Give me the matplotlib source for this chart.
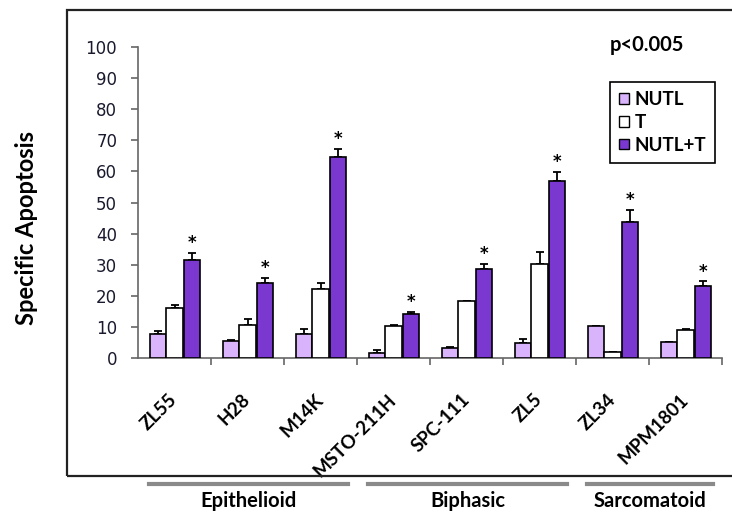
import matplotlib.pyplot as plt
import matplotlib.transforms as mtransforms
from matplotlib.patches import Rectangle, Patch
from matplotlib.lines import Line2D
import numpy as np

# cell lines and treatment groups
cell_lines = ["ZL55", "H28", "M14K", "MSTO-211H", "SPC-111", "ZL5", "ZL34", "MPM1801"]
nutl = [7.8, 5.5, 7.8, 1.6, 3.2, 4.8, 10.2, 5.0]
nutl_err = [0.8, 0.3, 1.5, 0.9, 0.2, 1.3, 0.2, 0.3]
t_only = [16.0, 10.7, 22.3, 10.2, 18.2, 30.3, 1.8, 8.9]
t_err = [1.0, 1.8, 1.8, 0.5, 0.2, 3.7, 0.2, 0.4]
nutl_t = [31.6, 24.1, 64.5, 14.2, 28.6, 57.0, 43.6, 23.3]
nutl_t_err = [2.2, 1.6, 2.8, 0.7, 1.7, 2.8, 4.1, 1.3]

# histology groups: (name, first index, last index)
histology = [("Epithelioid", 0, 2), ("Biphasic", 3, 5), ("Sarcomatoid", 6, 7)]

light = "#d9b3fb"
dark = "#7b38d0"
font = "Lato"

fig = plt.figure(figsize=(7.32, 5.12), dpi=100)
ax = fig.add_axes([138 / 732, 1 - 358 / 512, 584 / 732, 311 / 512])

x = np.arange(len(cell_lines)) + 0.5
w = 0.22
ekw = dict(lw=1.3, capthick=1.3, ecolor="black")
for off, vals, errs, col in [(-0.22, nutl, nutl_err, light),
                             (0.0, t_only, t_err, "white"),
                             (0.235, nutl_t, nutl_t_err, dark)]:
    ax.bar(x + off, vals, w, color=col, edgecolor="black", linewidth=1.2, zorder=3)
    ax.errorbar(x + off, vals, yerr=[np.zeros(len(errs)), errs], fmt="none",
                capsize=3, zorder=2, **ekw)

# significance stars over the combination bars
for xi, v, e in zip(x + 0.235, nutl_t, nutl_t_err):
    ax.text(xi, v + e + 3.2, "*", ha="center", va="center", fontsize=12,
            fontweight="bold", family="DejaVu Sans")

ax.set_xlim(0, len(cell_lines))
ax.set_ylim(0, 100)
ax.set_yticks(range(0, 101, 10))
ax.tick_params(axis="y", direction="out", length=5, width=1.2, color="#666666",
               labelsize=12, pad=10, labelcolor="#1a1a2e")
ax.set_xticks(x)
ax.set_xticklabels(cell_lines, rotation=45, ha="right", va="center",
                   rotation_mode="anchor", fontsize=13.5,
                   fontweight="bold", family=font)
ax.tick_params(axis="x", length=0, pad=28)
ax.set_xticks(np.arange(1, len(cell_lines) + 1), minor=True)
ax.tick_params(axis="x", which="minor", direction="out", length=5, width=1.2,
               color="#666666")
for s in ["top", "right"]:
    ax.spines[s].set_visible(False)
for s in ["left", "bottom"]:
    ax.spines[s].set_color("#666666")
    ax.spines[s].set_linewidth(1.2)

fig.text(27 / 732, 1 - 228 / 512, "Specific Apoptosis", rotation=90, ha="center",
         va="center", fontsize=17, fontweight="bold", family=font)
fig.text(610 / 732, 1 - 45 / 512, "p<0.005", ha="left", va="center", fontsize=14.5,
         fontweight="bold", family=font)

# outer frame
fig.add_artist(Rectangle((67 / 732, 1 - 476 / 512), 0.99, 466 / 512, fill=False,
                         edgecolor="#222222", linewidth=1.6,
                         transform=fig.transFigure))

handles = [Patch(facecolor=light, edgecolor="black", label="NUTL"),
           Patch(facecolor="white", edgecolor="black", label="T"),
           Patch(facecolor=dark, edgecolor="black", label="NUTL+T")]
leg = fig.legend(handles=handles, loc="upper left",
                 bbox_to_anchor=(610 / 732, 1 - 82 / 512), fancybox=False,
                 edgecolor="black", framealpha=1, handlelength=0.5,
                 handleheight=0.5, handletextpad=0.3, borderpad=0.5,
                 labelspacing=0.3, borderaxespad=0,
                 prop=dict(family=font, weight="bold", size=13.5))
leg.get_frame().set_linewidth(1.2)

# histology bars under the cell line labels
trans = mtransforms.blended_transform_factory(ax.transData, fig.transFigure)
for name, i0, i1 in histology:
    x0, x1 = i0 + 0.15, i1 + 0.88
    fig.add_artist(Line2D([x0, x1], [1 - 484 / 512] * 2, color="#8a8a8a", lw=3,
                          transform=trans))
    fig.text((x0 + x1) / 2, 1 - 501 / 512, name, transform=trans, ha="center",
             va="center", fontsize=14.5, fontweight="bold", family=font)

fig.savefig("out.png", dpi=100)
